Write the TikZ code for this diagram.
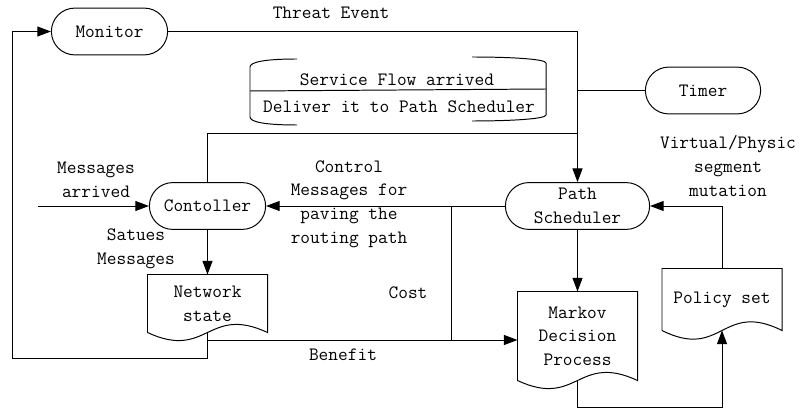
\documentclass[tikz,border=0pt]{standalone}
\usepackage{fontspec}
\usepackage{tikz}
\usetikzlibrary{arrows.meta,shapes.misc}

\begin{document}
\begin{tikzpicture}[x=0.025cm, y=-0.025cm, line width=0.7pt,
  font=\ttfamily\fontsize{13.4pt}{16.8pt}\selectfont,
  >={Triangle[length=3.4mm,width=2.5mm]},
  term/.style={draw, rounded rectangle, minimum height=1.17cm, align=center, inner sep=1pt},
  docbox/.style={minimum width=2.975cm, align=center, inner sep=0pt},
  lbl/.style={align=center, inner sep=0pt}]
\useasboundingbox (0,0) rectangle (800,412);

% terminals
\node[term, minimum width=2.975cm] (mon) at (109.5,31.5) {Monitor};
\node[term, minimum width=2.95cm] (tmr) at (703,90.5) {Timer};
\node[term, minimum width=2.975cm] (ctl) at (207.5,206) {Contoller};
\node[term, minimum width=3.675cm] (path) at (577.5,206) {Path\\Scheduler};

% documents
\node[docbox, minimum height=1.425cm] (net) at (207.5,303.5) {Network\\state};
\node[docbox, minimum height=2.2cm] (mdp) at (577.5,336) {Markov\\Decision\\Process};
\node[docbox, minimum height=1.525cm] (pol) at (722,299.5) {Policy set};
\draw (net.south west) -- (net.north west) -- (net.north east) -- (net.south east)
  .. controls +(-60,-28) and +(60,28) .. (net.south west);
\draw (mdp.south west) -- (mdp.north west) -- (mdp.north east) -- (mdp.south east)
  .. controls +(-60,-28) and +(60,28) .. (mdp.south west);
\draw (pol.south west) -- (pol.north west) -- (pol.north east) -- (pol.south east)
  .. controls +(-60,-30) and +(60,30) .. (pol.south west);

% annotation
\node[lbl] (sfa) at (397,80) {Service Flow arrived};
\node[lbl] (dlv) at (399,107) {Deliver it to Path Scheduler};
\draw (297,59) .. controls (265,59) and (250,62) .. (250,67) -- (250,117)
  .. controls (250,122) and (265,125) .. (297,125);
\draw (472,57) .. controls (510,57) and (546,59) .. (546,63) -- (546,115)
  .. controls (546,119) and (510,121) .. (472,121);
\draw (250,91) -- (546,89);

% junctions
\coordinate (sfj) at (577.5,133);
\coordinate (inmsg) at (38,206);
\coordinate (costtop) at (451,206);
\coordinate (costbot) at (451,340);
\coordinate (nb) at (207.5,340);
\coordinate (lp) at (12,358);
\coordinate (bl) at (577.5,407);

% connectors
\draw[->] (mon.east) -| (path.north);
\draw (ctl.north) |- (sfj);
\draw (tmr.west) -- (tmr.west -| path.north);
\draw[->] (inmsg) -- (ctl.west);
\draw[->] (path.west) -- (ctl.east);
\draw[->] (ctl.south) -- (net.north);
\draw[->] (path.south) -- (mdp.north);
\draw (costtop) -- (costbot);
\draw[->] (nb) -- (nb -| mdp.west);
\draw[->] (net.south) |- (lp) |- (mon.west);
\draw[->] (mdp.south) |- (pol.south |- bl) -- (pol.south);
\draw[->] (pol.north) |- (path.east);

% labels
\node[lbl] (thr) at (331,13) {Threat Event};
\node[lbl] (marr) at (96,180) {Messages\\arrived};
\node[lbl] (stm) at (136,249) {Satues\\Messages};
\node[lbl] (cmsg) at (349,204) {Control\\Messages for\\paving the\\routing path};
\node[lbl] (cost) at (408,293) {Cost};
\node[lbl] (ben) at (343,355) {Benefit};
\node[lbl] (vps) at (728,166) {Virtual/Physic\\segment\\mutation};
\end{tikzpicture}
\end{document}
